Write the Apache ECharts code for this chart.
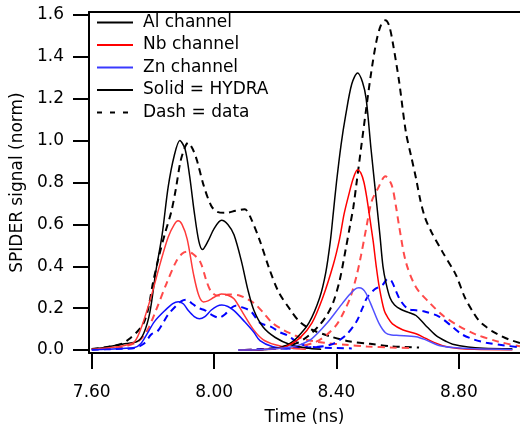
<!DOCTYPE html>
<html>
<head>
<meta charset="utf-8">
<script src="https://cdn.jsdelivr.net/npm/echarts@6/dist/echarts.min.js"></script>
<style>html,body{margin:0;padding:0;background:#fff}#c{width:520px;height:431px}</style>
</head>
<body>
<div id="c"></div>
<script>
// Tick labels
const xTicks = [7.6, 8.0, 8.4, 8.8];
const yTicks = [0, 0.2, 0.4, 0.6, 0.8, 1.0, 1.2, 1.4, 1.6];
const legendNames = ['Al channel', 'Nb channel', 'Zn channel', 'Solid = HYDRA', 'Dash = data'];

// Shot 1 (first implosion) [time ns, normalized signal]
const alHydra1 = [[7.60,0.005],[7.65,0.015],[7.70,0.028],[7.75,0.042],[7.77,0.08],[7.79,0.18],[7.81,0.38],[7.83,0.55],[7.85,0.78],[7.87,0.93],[7.888,1.0],[7.905,0.96],[7.92,0.83],[7.935,0.66],[7.95,0.52],[7.962,0.48],[7.98,0.52],[8.00,0.58],[8.024,0.62],[8.045,0.60],[8.065,0.55],[8.09,0.42],[8.11,0.29],[8.13,0.19],[8.16,0.11],[8.20,0.06],[8.25,0.025],[8.30,0.01],[8.35,0.004]];
const alData1 = [[7.60,0.005],[7.65,0.015],[7.70,0.03],[7.72,0.05],[7.75,0.09],[7.77,0.13],[7.785,0.2],[7.80,0.32],[7.82,0.45],[7.84,0.56],[7.86,0.66],[7.875,0.77],[7.89,0.9],[7.905,0.97],[7.915,0.99],[7.93,0.96],[7.945,0.9],[7.965,0.79],[7.99,0.69],[8.01,0.66],[8.04,0.655],[8.07,0.665],[8.10,0.672],[8.12,0.63],[8.15,0.52],[8.18,0.39],[8.21,0.28],[8.25,0.19],[8.28,0.135],[8.32,0.097],[8.38,0.065],[8.44,0.042],[8.51,0.03],[8.58,0.018],[8.67,0.012]];
const nbHydra1 = [[7.60,0.004],[7.65,0.01],[7.70,0.02],[7.74,0.04],[7.765,0.12],[7.795,0.26],[7.825,0.42],[7.85,0.54],[7.87,0.6],[7.882,0.617],[7.895,0.6],[7.912,0.53],[7.933,0.36],[7.95,0.26],[7.965,0.23],[7.98,0.235],[8.00,0.252],[8.024,0.268],[8.045,0.262],[8.065,0.245],[8.095,0.175],[8.13,0.095],[8.16,0.05],[8.20,0.025],[8.25,0.01],[8.30,0.004]];
const nbData1 = [[7.60,0.003],[7.65,0.008],[7.70,0.015],[7.75,0.04],[7.78,0.09],[7.81,0.19],[7.845,0.32],[7.875,0.42],[7.895,0.46],[7.91,0.47],[7.93,0.46],[7.955,0.42],[7.975,0.33],[7.99,0.28],[8.01,0.26],[8.05,0.265],[8.08,0.262],[8.10,0.25],[8.13,0.225],[8.16,0.18],[8.19,0.13],[8.225,0.097],[8.26,0.073],[8.30,0.05],[8.36,0.035],[8.43,0.025],[8.50,0.017],[8.58,0.012],[8.65,0.01]];
const znHydra1 = [[7.60,0.002],[7.65,0.004],[7.70,0.008],[7.74,0.012],[7.76,0.03],[7.78,0.075],[7.805,0.136],[7.84,0.19],[7.865,0.222],[7.883,0.231],[7.90,0.22],[7.915,0.19],[7.935,0.16],[7.952,0.149],[7.97,0.16],[7.99,0.19],[8.01,0.21],[8.025,0.215],[8.045,0.208],[8.066,0.187],[8.10,0.135],[8.13,0.085],[8.15,0.045],[8.19,0.017],[8.25,0.005]];
const znData1 = [[7.60,0.002],[7.65,0.004],[7.70,0.006],[7.74,0.01],[7.77,0.03],[7.795,0.075],[7.815,0.09],[7.835,0.135],[7.85,0.17],[7.875,0.21],[7.895,0.235],[7.91,0.24],[7.93,0.22],[7.95,0.2],[7.97,0.19],[7.99,0.17],[8.015,0.155],[8.035,0.17],[8.055,0.2],[8.07,0.212],[8.09,0.205],[8.12,0.185],[8.15,0.13],[8.185,0.112],[8.215,0.085],[8.24,0.07],[8.27,0.04],[8.30,0.02],[8.35,0.012],[8.45,0.008]];

// Shot 2 (second implosion)
const alHydra2 = [[8.08,0.0],[8.15,0.002],[8.20,0.008],[8.24,0.025],[8.27,0.058],[8.31,0.13],[8.345,0.25],[8.365,0.37],[8.38,0.52],[8.39,0.66],[8.40,0.8],[8.415,0.98],[8.43,1.12],[8.45,1.27],[8.469,1.323],[8.485,1.28],[8.497,1.2],[8.513,0.96],[8.53,0.72],[8.542,0.55],[8.552,0.4],[8.562,0.32],[8.575,0.25],[8.59,0.215],[8.61,0.195],[8.635,0.18],[8.66,0.165],[8.69,0.12],[8.725,0.07],[8.76,0.04],[8.78,0.028],[8.83,0.015],[8.88,0.009],[8.975,0.006]];
const alData2 = [[8.10,0.0],[8.20,0.01],[8.27,0.033],[8.31,0.07],[8.345,0.12],[8.37,0.17],[8.39,0.23],[8.41,0.33],[8.43,0.48],[8.445,0.6],[8.455,0.68],[8.465,0.79],[8.48,0.96],[8.497,1.15],[8.513,1.32],[8.53,1.47],[8.545,1.55],[8.56,1.575],[8.572,1.55],[8.585,1.46],[8.605,1.28],[8.627,1.04],[8.645,0.92],[8.66,0.82],[8.675,0.71],[8.69,0.63],[8.71,0.565],[8.746,0.47],[8.79,0.36],[8.82,0.25],[8.845,0.185],[8.866,0.14],[8.89,0.11],[8.91,0.089],[8.94,0.066],[8.965,0.05],[9.0,0.034]];
const nbHydra2 = [[8.08,0.0],[8.15,0.002],[8.20,0.006],[8.236,0.017],[8.28,0.057],[8.32,0.13],[8.355,0.25],[8.39,0.41],[8.41,0.53],[8.425,0.65],[8.44,0.74],[8.455,0.82],[8.469,0.861],[8.48,0.845],[8.49,0.8],[8.50,0.72],[8.51,0.62],[8.52,0.52],[8.53,0.4],[8.54,0.3],[8.556,0.19],[8.57,0.15],[8.583,0.125],[8.616,0.097],[8.66,0.078],[8.69,0.057],[8.725,0.033],[8.757,0.017],[8.80,0.008],[8.85,0.004],[8.975,0.002]];
const nbData2 = [[8.10,0.0],[8.20,0.006],[8.27,0.015],[8.334,0.04],[8.37,0.075],[8.40,0.12],[8.42,0.17],[8.445,0.25],[8.465,0.35],[8.48,0.45],[8.497,0.58],[8.515,0.71],[8.535,0.77],[8.56,0.83],[8.58,0.79],[8.594,0.69],[8.605,0.59],[8.627,0.42],[8.66,0.3],[8.705,0.225],[8.75,0.163],[8.80,0.115],[8.855,0.075],[8.93,0.04],[9.0,0.018]];
const znHydra2 = [[8.078,0.0],[8.15,0.002],[8.20,0.006],[8.25,0.015],[8.28,0.025],[8.32,0.055],[8.37,0.13],[8.41,0.205],[8.44,0.26],[8.46,0.29],[8.473,0.297],[8.485,0.292],[8.497,0.27],[8.518,0.2],[8.54,0.125],[8.56,0.083],[8.58,0.072],[8.605,0.07],[8.66,0.064],[8.69,0.05],[8.735,0.022],[8.78,0.012],[8.85,0.006],[8.975,0.003]];
const znData2 = [[8.10,0.0],[8.20,0.006],[8.30,0.012],[8.38,0.025],[8.43,0.07],[8.465,0.135],[8.485,0.2],[8.50,0.25],[8.525,0.29],[8.55,0.31],[8.568,0.34],[8.58,0.33],[8.595,0.28],[8.61,0.235],[8.635,0.195],[8.66,0.19],[8.685,0.185],[8.735,0.16],[8.78,0.11],[8.81,0.075],[8.85,0.05],[8.89,0.035],[8.95,0.022],[8.99,0.015]];

const FONT = 'DejaVu Sans';
function line(name, data, color, dashed, width) {
  return {
    name: name, type: 'line', data: data, symbol: 'none', smooth: 0.3,
    silent: true, animation: false,
    lineStyle: { color: color, width: width, type: dashed ? [7, 5] : 'solid' },
    itemStyle: { color: color }, z: dashed ? 2 : 3
  };
}
function legendOnly(name, color) {
  return { name: name, type: 'line', data: [], symbol: 'none',
    lineStyle: { color: color, width: 2 }, itemStyle: { color: color } };
}

const series = [
  legendOnly('Al channel', '#000000'),
  legendOnly('Nb channel', '#ff0000'),
  legendOnly('Zn channel', '#3a3aff'),
  legendOnly('Solid = HYDRA', '#000000'),
  legendOnly('Dash = data', '#000000'),
  line('Al data 1', alData1, '#000000', true, 2),
  line('Nb data 1', nbData1, '#ff4a4a', true, 2),
  line('Zn data 1', znData1, '#0000ff', true, 2),
  line('Al data 2', alData2, '#000000', true, 2),
  line('Nb data 2', nbData2, '#ff4a4a', true, 2),
  line('Zn data 2', znData2, '#0000ff', true, 2),
  line('Al HYDRA 1', alHydra1, '#000000', false, 1.5),
  line('Nb HYDRA 1', nbHydra1, '#ff3a3a', false, 1.5),
  line('Zn HYDRA 1', znHydra1, '#1010ff', false, 1.5),
  line('Al HYDRA 2', alHydra2, '#000000', false, 1.5),
  line('Nb HYDRA 2', nbHydra2, '#ff0000', false, 1.5),
  line('Zn HYDRA 2', znHydra2, '#5050ff', false, 1.5)
];

const dashIcon = 'path://M0,0h5v2h-5z M13,0h5v2h-5z M26,0h5v2h-5z M36,0L36,2L36,0z';
const legendData = legendNames.map(function (n) {
  return n === 'Dash = data' ? { name: n, icon: dashIcon } : { name: n };
});

const chart = echarts.init(document.getElementById('c'), null, { renderer: 'canvas' });
chart.setOption({
  animation: false,
  backgroundColor: '#ffffff',
  grid: { left: 89, right: 0, top: 12, bottom: 76 },
  legend: {
    data: legendData, orient: 'vertical', left: 97, top: 14, padding: 0,
    icon: 'rect', itemWidth: 36, itemHeight: 2, itemGap: 5.5, selectedMode: false,
    textStyle: { fontFamily: FONT, fontSize: 17, lineHeight: 17, color: '#000', padding: [0, 0, 0, 5] }
  },
  xAxis: [{
    type: 'value', min: 7.591, max: 9.0,
    name: 'Time (ns)', nameLocation: 'middle', nameGap: 56,
    nameTextStyle: { fontFamily: FONT, fontSize: 17, color: '#000' },
    axisLine: { show: true, onZero: false, lineStyle: { color: '#000', width: 2 } },
    axisTick: { show: true, inside: false, length: 16, customValues: xTicks, lineStyle: { color: '#000', width: 2 } },
    axisLabel: { customValues: xTicks, margin: 31, fontFamily: FONT, fontSize: 17, color: '#000',
      formatter: function (v) { return v.toFixed(2); } },
    splitLine: { show: false }
  }, {
    type: 'value', position: 'top', min: 7.591, max: 9.0,
    axisLine: { show: true, onZero: false, lineStyle: { color: '#000', width: 2 } },
    axisTick: { show: false }, axisLabel: { show: false }, splitLine: { show: false }
  }],
  yAxis: {
    type: 'value', min: -0.014, max: 1.614,
    name: 'SPIDER signal (norm)', nameLocation: 'middle', nameGap: 61, nameRotate: 90,
    nameTextStyle: { fontFamily: FONT, fontSize: 17, color: '#000' },
    axisLine: { show: true, onZero: false, lineStyle: { color: '#000', width: 2 } },
    axisTick: { show: true, inside: false, length: 16, customValues: yTicks, lineStyle: { color: '#000', width: 2 } },
    axisLabel: { customValues: yTicks, margin: 25, fontFamily: FONT, fontSize: 17, color: '#000',
      formatter: function (v) { return v.toFixed(1); } },
    splitLine: { show: false }
  },
  series: series
});
</script>
</body>
</html>
